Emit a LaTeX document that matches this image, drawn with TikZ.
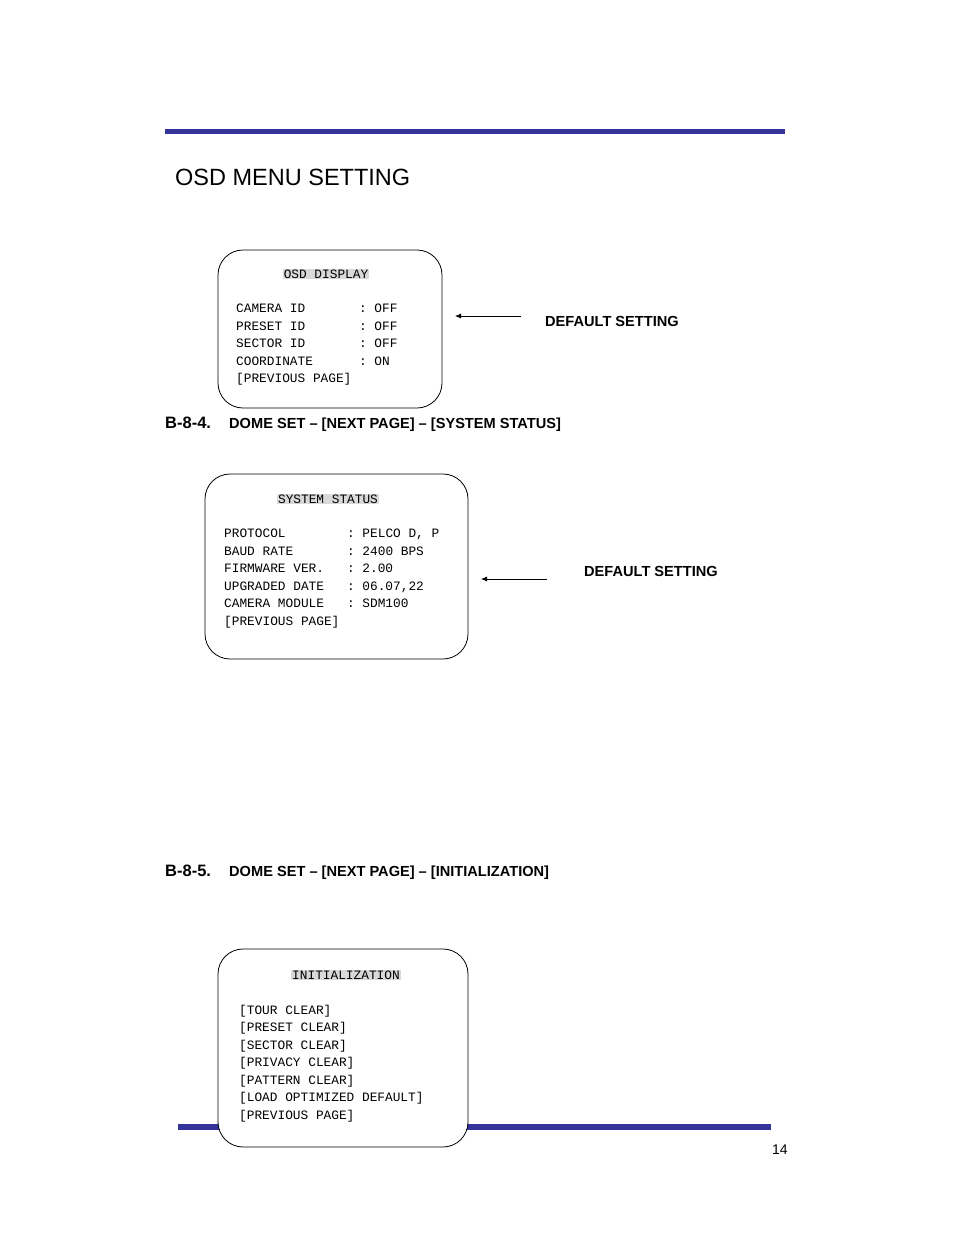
\documentclass[tikz,border=0pt]{standalone}
\usepackage{fontspec}
\setmainfont{Liberation Sans}
\newfontfamily\monofnt{Liberation Mono}
\usetikzlibrary{arrows.meta}
\definecolor{barblue}{RGB}{51,51,153}
\tikzset{
  menubox/.style={draw, thick, rounded corners=25pt, fill=white},
  menutitle/.style={fill=gray!30, inner sep=1pt, font=\monofnt\fontsize{12.8}{17.5}\selectfont},
  menutext/.style={anchor=north west, align=left, inner sep=0pt, font=\monofnt\fontsize{12.8}{17.5}\selectfont},
  note/.style={anchor=base west, inner sep=0pt, font=\bfseries\fontsize{14.6}{16}\selectfont},
  defarrow/.style={-{Latex[length=6pt,width=5pt]}, thick}
}
\begin{document}
\begin{tikzpicture}[x=1pt,y=-1pt]
	\useasboundingbox (0,0) rectangle (954,1235);
	
	% bars
	\fill[barblue] (165,129) rectangle (785,134);
	\fill[barblue] (178,1124) rectangle (771,1130);
	
	\node[anchor=base west, inner sep=0pt, font=\fontsize{23.5}{28}\selectfont] (title) at (175,185) {OSD MENU SETTING};
	
	% OSD display
	\draw[menubox] (218,250) rectangle (442,408);
	\node[menutitle] (osd) at (326,274) {OSD~DISPLAY};
	\node[menutext] (osdtxt) at (236,304) {CAMERA~ID~~~~~~~:~OFF\\PRESET~ID~~~~~~~:~OFF\\SECTOR~ID~~~~~~~:~OFF\\COORDINATE~~~~~~:~ON\\{[}PREVIOUS~PAGE]};
	\coordinate (a1) at (521,316);
	\coordinate (b1) at (455,316);
	\draw[defarrow] (a1) -- (b1);
	\node[note] (def1) at (545,326) {DEFAULT SETTING};
	
	\node[note, font=\bfseries\fontsize{16.5}{18}\selectfont] (b84) at (165,428) {B-8-4.};
	\node[note] (h84) at (229,428) {DOME SET -- [NEXT PAGE] -- [SYSTEM STATUS]};
	
	% system status
	\draw[menubox] (205,474) rectangle (468,659);
	\node[menutitle] (sys) at (328,499) {SYSTEM~STATUS};
	\node[menutext] (systxt) at (224,529) {PROTOCOL~~~~~~~~:~PELCO~D,~P\\BAUD~RATE~~~~~~~:~2400~BPS\\FIRMWARE~VER.~~~:~2.00\\UPGRADED~DATE~~~:~06.07,22\\CAMERA~MODULE~~~:~SDM100\\{[}PREVIOUS~PAGE]};
	\coordinate (a2) at (547,579);
	\coordinate (b2) at (481,579);
	\draw[defarrow] (a2) -- (b2);
	\node[note] (def2) at (584,576) {DEFAULT SETTING};
	
	\node[note, font=\bfseries\fontsize{16.5}{18}\selectfont] (b85) at (165,876) {B-8-5.};
	\node[note] (h85) at (229,876) {DOME SET -- [NEXT PAGE] -- [INITIALIZATION]};
	
	% initialization
	\draw[menubox] (218,949) rectangle (468,1147);
	\node[menutitle] (init) at (346,975) {INITIALIZATION};
	\node[menutext] (inittxt) at (239,1005) {{[}TOUR~CLEAR]\\{[}PRESET~CLEAR]\\{[}SECTOR~CLEAR]\\{[}PRIVACY~CLEAR]\\{[}PATTERN~CLEAR]\\{[}LOAD~OPTIMIZED~DEFAULT]\\{[}PREVIOUS~PAGE]};
	
	\node[anchor=base west, inner sep=0pt, font=\fontsize{14}{16}\selectfont] (pg) at (772,1154) {14};
\end{tikzpicture}
\end{document}
